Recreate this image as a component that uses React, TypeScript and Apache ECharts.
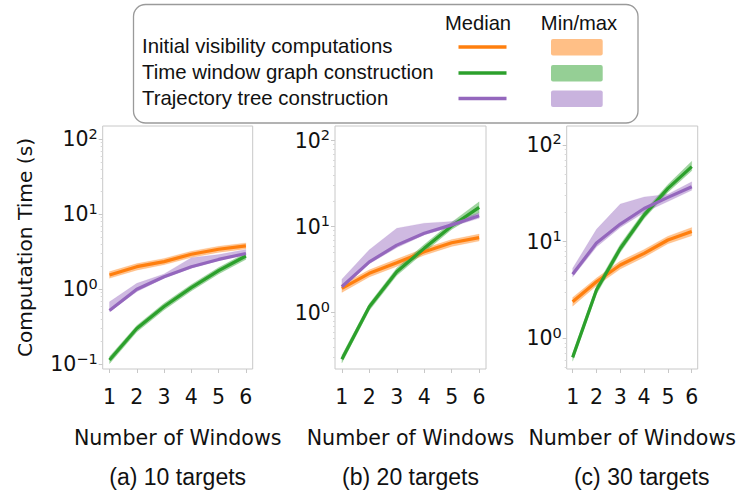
import React, { useEffect, useRef } from "react";
import * as echarts from "echarts";

// ---------- data ----------
const windows = [1, 2, 3, 4, 5, 6];
const panelTitles = ["(a) 10 targets", "(b) 20 targets", "(c) 30 targets"];
const seriesNames = [
  "Initial visibility computations",
  "Time window graph construction",
  "Trajectory tree construction",
];
const lineColors = ["#ff7f0e", "#2ca02c", "#9467bd"];

// (a) 10 targets
const visMedA = [1.55, 2.0, 2.34, 2.93, 3.42, 3.8];
const visMinA = [1.4, 1.8, 2.12, 2.65, 3.1, 3.45];
const visMaxA = [1.72, 2.2, 2.58, 3.22, 3.75, 4.15];
const graphMedA = [0.114, 0.3, 0.59, 1.05, 1.77, 2.78];
const graphMinA = [0.102, 0.27, 0.53, 0.95, 1.6, 2.5];
const graphMaxA = [0.127, 0.33, 0.65, 1.16, 1.95, 3.05];
const treeMedA = [0.52, 1.0, 1.47, 2.0, 2.5, 3.0];
const treeMinA = [0.5, 0.93, 1.4, 1.9, 2.4, 2.9];
const treeMaxA = [0.68, 1.2, 1.6, 2.64, 2.9, 3.4];

// (b) 20 targets
const visMedB = [1.92, 2.87, 3.81, 5.1, 6.5, 7.45];
const visMinB = [1.72, 2.6, 3.45, 4.65, 5.9, 6.8];
const visMaxB = [2.12, 3.15, 4.2, 5.6, 7.1, 8.2];
const graphMedB = [0.287, 1.17, 3.0, 5.6, 10.2, 16.8];
const graphMinB = [0.26, 1.06, 2.7, 5.05, 9.3, 14.5];
const graphMaxB = [0.32, 1.28, 3.3, 6.2, 11.3, 19.5];
const treeMedB = [2.0, 3.9, 6.1, 8.4, 10.5, 13.4];
const treeMinB = [1.9, 3.7, 5.7, 8.0, 10.0, 12.5];
const treeMaxB = [2.45, 5.4, 9.6, 11.0, 11.5, 14.5];

// (c) 30 targets
const visMedC = [2.39, 3.85, 5.73, 7.57, 10.4, 12.7];
const visMinC = [2.15, 3.5, 5.2, 6.9, 9.5, 11.5];
const visMaxC = [2.65, 4.2, 6.3, 8.3, 11.4, 14.0];
const graphMedC = [0.636, 3.16, 8.5, 18.8, 35.6, 59.6];
const graphMinC = [0.58, 2.85, 7.7, 17.2, 32.5, 54];
const graphMaxC = [0.7, 3.5, 9.4, 20.6, 39, 68];
const treeMedC = [4.6, 9.7, 15.2, 22, 28.7, 37];
const treeMinC = [4.3, 8.8, 14, 20, 26, 34];
const treeMaxC = [5.3, 13.4, 24.5, 29, 31, 41.6];

const yMajorTicks = [
  [0.1, 1, 10, 100],
  [1, 10, 100],
  [1, 10, 100],
];
const yMinorTicks = [
  0.2, 0.3, 0.4, 0.5, 0.6, 0.7, 0.8, 0.9,
  2, 3, 4, 5, 6, 7, 8, 9,
  20, 30, 40, 50, 60, 70, 80, 90,
];
const yMins = [0.0865, 0.2213, 0.482];
const yMaxs = [150.3, 148.3, 157];
const xMin = 0.75;
const xMax = 6.25;

const panels = [
  {
    med: [visMedA, graphMedA, treeMedA],
    min: [visMinA, graphMinA, treeMinA],
    max: [visMaxA, graphMaxA, treeMaxA],
  },
  {
    med: [visMedB, graphMedB, treeMedB],
    min: [visMinB, graphMinB, treeMinB],
    max: [visMaxB, graphMaxB, treeMaxB],
  },
  {
    med: [visMedC, graphMedC, treeMedC],
    min: [visMinC, graphMinC, treeMinC],
    max: [visMaxC, graphMaxC, treeMaxC],
  },
];

// ---------- layout ----------
const gridLefts = [102.7, 335, 566.7];
const gridWidths = [150, 151, 150];
const gridTop = 126;
const gridHeight = 243;
const AX_FONT = "'DejaVu Sans', sans-serif";
const LG_FONT = "'Liberation Sans', Arial, sans-serif";
const TXT = "#111";
const FRAME = "#c8c8c8";

function supLabel(v: number) {
  const e = Math.round(Math.log10(v));
  const s = e < 0 ? "\u2212" + String(-e) : String(e);
  return "{b|10}{s|" + s + "}";
}

export default function App() {
  const ref = useRef<HTMLDivElement>(null);

  useEffect(() => {
    if (!ref.current) return;
    const chart = echarts.init(ref.current, undefined, { renderer: "svg" });

    const grid: any[] = [];
    const xAxis: any[] = [];
    const yAxis: any[] = [];
    const series: any[] = [];

    panels.forEach((p, pi) => {
      grid.push({
        left: gridLefts[pi],
        top: gridTop,
        width: gridWidths[pi],
        height: gridHeight,
        show: true,
        borderColor: FRAME,
        borderWidth: 1,
        backgroundColor: "transparent",
        containLabel: false,
      });
      xAxis.push({
        type: "value",
        gridIndex: pi,
        min: xMin,
        max: xMax,
        splitLine: { show: false },
        axisLine: { show: false },
        axisTick: {
          show: true,
          length: 4,
          lineStyle: { color: FRAME },
          customValues: windows,
        },
        axisLabel: {
          customValues: windows,
          margin: 17,
          fontFamily: AX_FONT,
          fontSize: 20.5,
          color: TXT,
        },
        name: "Number of Windows",
        nameLocation: "middle",
        nameGap: 58,
        nameTextStyle: { fontFamily: AX_FONT, fontSize: 20.6, color: TXT },
      });
      yAxis.push({
        type: "log",
        logBase: 10,
        gridIndex: pi,
        min: yMins[pi],
        max: yMaxs[pi],
        splitLine: { show: false },
        minorSplitLine: { show: false },
        axisLine: { show: false },
        axisTick: {
          show: true,
          length: 4,
          lineStyle: { color: FRAME },
          customValues: yMajorTicks[pi],
        },
        axisLabel: {
          customValues: yMajorTicks[pi],
          margin: 5,
          formatter: (v: number) => supLabel(v),
          rich: {
            b: { fontFamily: AX_FONT, fontSize: 20.5, color: TXT, lineHeight: 26 },
            s: {
              fontFamily: AX_FONT,
              fontSize: 14.5,
              color: TXT,
              lineHeight: 14,
              verticalAlign: "top",
            },
          },
        },
        name: pi === 0 ? "Computation Time (s)" : "",
        nameLocation: "middle",
        nameGap: 68,
        nameTextStyle: { fontFamily: AX_FONT, fontSize: 20.2, color: TXT },
      });

      // bands
      p.med.forEach((_, si) => {
        const mins = p.min[si];
        const maxs = p.max[si];
        series.push({
          type: "custom",
          name: seriesNames[si] + " min/max",
          xAxisIndex: pi,
          yAxisIndex: pi,
          coordinateSystem: "cartesian2d",
          clip: true,
          silent: true,
          z: 1,
          data: windows.map((x, i) => [x, mins[i], maxs[i]]),
          encode: { x: 0, y: [1, 2] },
          renderItem: (params: any, api: any) => {
            if (params.dataIndex !== 0) return null;
            const n = params.dataInsideLength;
            const pts: number[][] = [];
            for (let i = 0; i < n; i++) {
              pts.push(api.coord([api.value(0, i), api.value(2, i)]));
            }
            for (let i = n - 1; i >= 0; i--) {
              pts.push(api.coord([api.value(0, i), api.value(1, i)]));
            }
            return {
              type: "polygon",
              shape: { points: pts },
              style: { fill: lineColors[si], opacity: 0.45, stroke: lineColors[si], lineWidth: 0.8, strokeOpacity: 0.3 },
            };
          },
        });
      });
      // medians
      p.med.forEach((med, si) => {
        series.push({
          type: "line",
          name: seriesNames[si],
          xAxisIndex: pi,
          yAxisIndex: pi,
          data: windows.map((x, i) => [x, med[i]]),
          showSymbol: false,
          symbol: "none",
          z: 3,
          lineStyle: { color: lineColors[si], width: 3.2 },
          itemStyle: { color: lineColors[si] },
        });
      });
    });

    // minor tick axes
    panels.forEach((_, pi) => {
      yAxis.push({
        type: "log",
        logBase: 10,
        gridIndex: pi,
        min: yMins[pi],
        max: yMaxs[pi],
        position: "left",
        splitLine: { show: false },
        axisLine: { show: false },
        axisLabel: { show: false },
        axisTick: {
          show: true,
          length: 2,
          lineStyle: { color: "#d8d8d8" },
          customValues: yMinorTicks.filter((v) => v > yMins[pi] && v < yMaxs[pi]),
        },
      });
    });

    // legend + captions as graphics
    const legendRows = [46, 72, 97.5];
    const graphic: any[] = [
      {
        type: "rect",
        shape: { x: 133.5, y: 4.5, width: 504.5, height: 118.5, r: 12 },
        style: { fill: "#fff", stroke: "#9a9a9a", lineWidth: 1.3 },
        z: 10,
      },
      {
        type: "text",
        x: 478,
        y: 22.5,
        style: { text: "Median", font: `20.2px ${LG_FONT}`, fill: TXT, align: "center", verticalAlign: "middle" },
        z: 11,
      },
      {
        type: "text",
        x: 579,
        y: 22.5,
        style: { text: "Min/max", font: `20.2px ${LG_FONT}`, fill: TXT, align: "center", verticalAlign: "middle" },
        z: 11,
      },
    ];
    seriesNames.forEach((nm, si) => {
      const y = legendRows[si];
      graphic.push({
        type: "text",
        x: 142,
        y,
        style: { text: nm, font: `20.4px ${LG_FONT}`, fill: TXT, align: "left", verticalAlign: "middle" },
        z: 11,
      });
      graphic.push({
        type: "line",
        shape: { x1: 458.5, y1: y + 1, x2: 506.5, y2: y + 1 },
        style: { stroke: lineColors[si], lineWidth: 3.3 },
        z: 11,
      });
      graphic.push({
        type: "rect",
        shape: { x: 551, y: y - 7, width: 51.7, height: 16.5, r: 2 },
        style: { fill: lineColors[si], opacity: 0.5 },
        z: 11,
      });
    });
    panelTitles.forEach((t, pi) => {
      graphic.push({
        type: "text",
        x: gridLefts[pi] + gridWidths[pi] / 2,
        y: 477,
        style: { text: t, font: `23px ${LG_FONT}`, fill: TXT, align: "center", verticalAlign: "middle" },
      });
    });

    chart.setOption({
      animation: false,
      backgroundColor: "#fff",
      grid,
      xAxis,
      yAxis,
      series,
      graphic,
    });

    return () => chart.dispose();
  }, []);

  return (
    <div
      ref={ref}
      style={{ position: "fixed", left: 0, top: 0, width: 738, height: 496 }}
    />
  );
}
